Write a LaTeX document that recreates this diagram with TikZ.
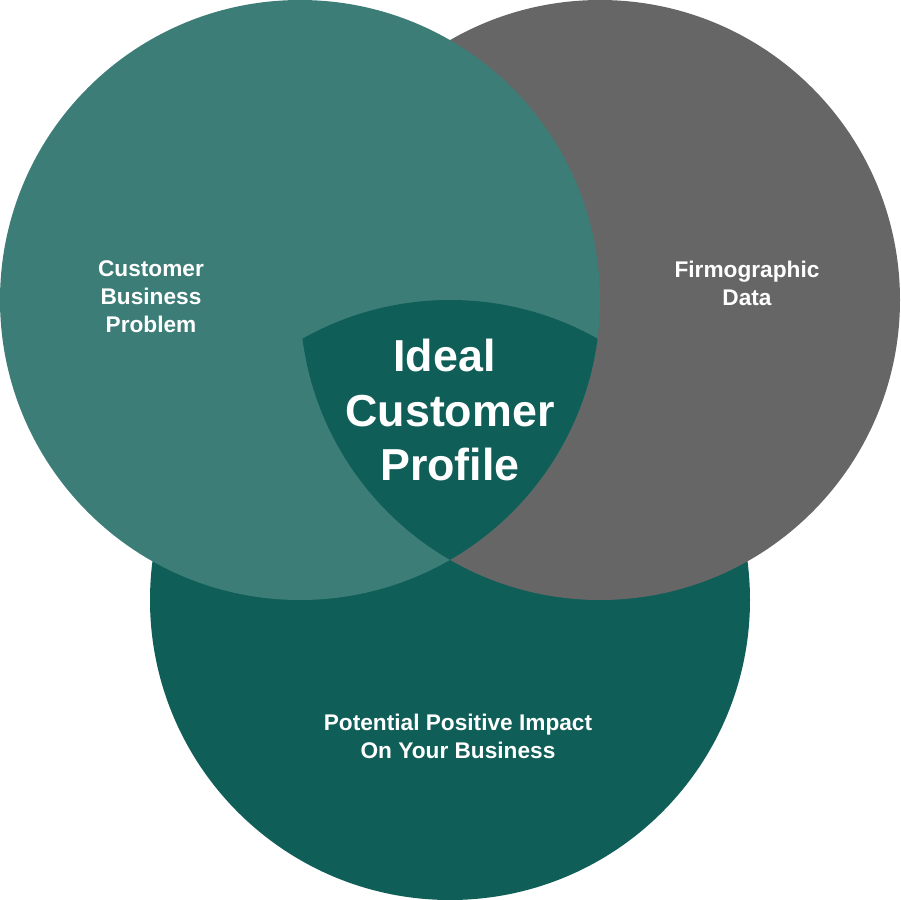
\documentclass[tikz,border=0pt]{standalone}
\usepackage{fontspec}
\setmainfont{Liberation Sans}
\definecolor{cLeft}{HTML}{3D7D77}
\definecolor{cRight}{HTML}{666666}
\definecolor{cBottom}{HTML}{0F5E57}
\tikzset{
  smalllabel/.style={text=white, align=center, font=\fontsize{12.9}{15.9}\selectfont\bfseries},
  biglabel/.style={text=white, align=center, font=\fontsize{25.5}{31.2}\selectfont\bfseries}
}
\begin{document}
\begin{tikzpicture}[x=0.02cm,y=-0.02cm]
\useasboundingbox (0,0) rectangle (900,900);
\fill[cBottom] (450,600) circle[radius=300];
\fill[cRight] (600,300) circle[radius=300];
\fill[cLeft] (300,300) circle[radius=300];
\begin{scope}
  \clip (300,300) circle[radius=300];
  \clip (600,300) circle[radius=300];
  \fill[cBottom] (450,600) circle[radius=300];
\end{scope}
\node[smalllabel] (cbp) at (151,297) {Customer\\Business\\Problem};
\node[smalllabel] (fd) at (747,283) {Firmographic\\Data};
\node[smalllabel] (ppi) at (458,736) {Potential Positive Impact\\On Your Business};
\node[biglabel] (icp) at (450,410) {Ideal\hspace{0.25em}\null\\Customer\\Profile};
\end{tikzpicture}
\end{document}
